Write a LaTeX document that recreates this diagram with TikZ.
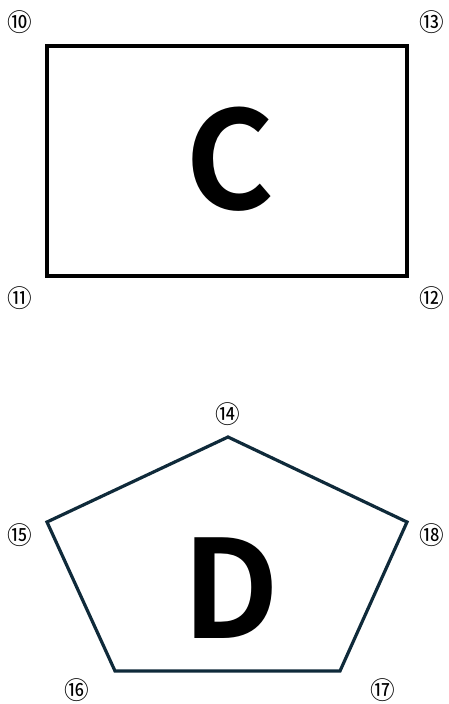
\documentclass[tikz,border=0pt]{standalone}
\usepackage{fontspec}
\newfontfamily\cjk{Noto Sans CJK JP}
\newfontfamily\bigsans{Noto Sans CJK JP}[BoldFont={* Bold}]
\definecolor{navy}{HTML}{0F2A3A}
\begin{document}
\begin{tikzpicture}[x=0.75pt,y=-0.75pt,
  num/.style={font=\cjk\fontsize{18.5}{18.5}\selectfont, inner sep=0pt},
  big/.style={font=\bigsans\bfseries\fontsize{102}{102}\selectfont, inner sep=0pt}]
\useasboundingbox (0,0) rectangle (449,704);
\node[draw=black, line width=2.4pt, minimum width=360*0.75pt, minimum height=230*0.75pt, inner sep=0pt] (rc) at (227,161) {};
\node[big] (c) at (230,159) {C};
\node[num] (n10) at (20,22) {⑩};
\node[num] (n13) at (432,22) {⑬};
\node[num] (n11) at (20,298) {⑪};
\node[num] (n12) at (432,298) {⑫};
\coordinate (p1) at (228,437);
\coordinate (p2) at (407,522);
\coordinate (p3) at (340,671);
\coordinate (p4) at (115,671);
\coordinate (p5) at (47,522);
\draw[navy, line width=2.4pt, line join=miter] (p1) -- (p2) -- (p3) -- (p4) -- (p5) -- cycle;
\node[big] (d) at (231,588) {D};
\node[num] (n14) at (228,414) {⑭};
\node[num] (n15) at (20,535) {⑮};
\node[num] (n18) at (432,535) {⑱};
\node[num] (n16) at (77,690) {⑯};
\node[num] (n17) at (383,690) {⑰};
\end{tikzpicture}
\end{document}
